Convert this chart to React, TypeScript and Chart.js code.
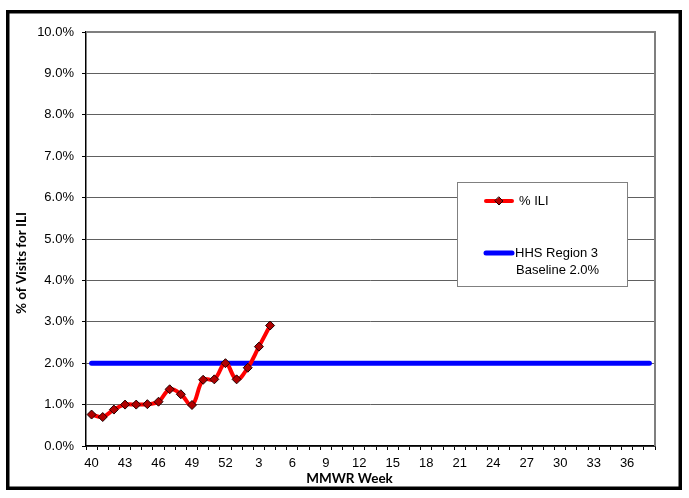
import React, { useEffect, useRef } from 'react';
import { Chart, registerables } from 'chart.js';

Chart.register(...registerables);

// MMWR weeks shown on the category axis
const weeks = [
  '40', '41', '42', '43', '44', '45', '46', '47', '48', '49', '50', '51', '52',
  '1', '2', '3', '4', '5', '6', '7', '8', '9', '10', '11', '12', '13', '14', '15',
  '16', '17', '18', '19', '20', '21', '22', '23', '24', '25', '26', '27', '28',
  '29', '30', '31', '32', '33', '34', '35', '36', '37', '38',
];

// % of visits for ILI (weeks 40 .. 4)
const iliPct = [0.76, 0.70, 0.88, 1.0, 1.0, 1.01, 1.07, 1.37, 1.25, 0.99, 1.6, 1.61, 2.0, 1.61, 1.89, 2.4, 2.91];

// HHS Region 3 baseline, spanning the whole season
const baselineWeeks = ['40', '38'];
const baselinePct = [2.0, 2.0];

const yTickValues = [0, 1, 2, 3, 4, 5, 6, 7, 8, 9, 10];

const seriesNames = ['% ILI', 'HHS Region 3', 'Baseline 2.0%'];
const axisTitles = { x: 'MMWR Week', y: '% of Visits for ILI' };

const TICK_FONT = '"Liberation Sans", Arial, sans-serif';
const TITLE_FONT = 'Lato, "Open Sans", sans-serif';

const decor = {
  id: 'decor',
  beforeDraw(chart: any) {
    const { ctx, width, height } = chart;
    ctx.save();
    ctx.fillStyle = '#ffffff';
    ctx.fillRect(0, 0, width, height);
    ctx.restore();
  },
  beforeDatasetsDraw(chart: any) {
    const { ctx, chartArea: a } = chart;
    ctx.save();
    ctx.strokeStyle = '#7f7f7f';
    ctx.lineWidth = 2;
    ctx.beginPath();
    ctx.moveTo(a.left, a.top);
    ctx.lineTo(a.right, a.top);
    ctx.lineTo(a.right, a.bottom);
    ctx.stroke();
    ctx.restore();
  },
  afterDraw(chart: any) {
    const { ctx, chartArea: a } = chart;
    ctx.save();
    // outer frame
    ctx.strokeStyle = '#000';
    ctx.lineWidth = 3.5;
    ctx.strokeRect(7.75, 11.75, 672.5, 476.5);

    // axis titles
    ctx.fillStyle = '#000';
    ctx.font = `bold 13.5px ${TITLE_FONT}`;
    ctx.textAlign = 'center';
    ctx.textBaseline = 'middle';
    ctx.fillText(axisTitles.x, (a.left + a.right) / 2 - 21, 479);
    ctx.save();
    ctx.translate(22, (a.top + a.bottom) / 2 + 24);
    ctx.rotate(-Math.PI / 2);
    ctx.fillText(axisTitles.y, 0, 0);
    ctx.restore();

    // legend box
    ctx.fillStyle = '#fff';
    ctx.fillRect(457, 182, 170, 104);
    ctx.strokeStyle = '#808080';
    ctx.lineWidth = 1;
    ctx.strokeRect(457.5, 182.5, 170, 104);

    ctx.lineCap = 'round';
    ctx.strokeStyle = '#ff0000';
    ctx.lineWidth = 4;
    ctx.beginPath();
    ctx.moveTo(486, 201);
    ctx.lineTo(512, 201);
    ctx.stroke();
    // diamond
    ctx.beginPath();
    ctx.moveTo(499, 197);
    ctx.lineTo(503, 201);
    ctx.lineTo(499, 205);
    ctx.lineTo(495, 201);
    ctx.closePath();
    ctx.fillStyle = '#b00000';
    ctx.fill();
    ctx.strokeStyle = '#200000';
    ctx.lineWidth = 1;
    ctx.stroke();

    ctx.strokeStyle = '#0000ff';
    ctx.lineWidth = 5;
    ctx.beginPath();
    ctx.moveTo(486, 253);
    ctx.lineTo(512, 253);
    ctx.stroke();

    ctx.fillStyle = '#000';
    ctx.font = `13px ${TICK_FONT}`;
    ctx.textAlign = 'left';
    ctx.textBaseline = 'middle';
    ctx.fillText(seriesNames[0], 519, 201);
    ctx.fillText(seriesNames[1], 515, 253);
    ctx.fillText(seriesNames[2], 516, 270);
    ctx.restore();
  },
};

export default function App() {
  const ref = useRef<HTMLCanvasElement | null>(null);

  useEffect(() => {
    if (!ref.current) return;
    const chart = new Chart(ref.current, {
      type: 'line',
      data: {
        labels: weeks,
        datasets: [
          {
            label: seriesNames[0],
            data: iliPct,
            borderColor: '#ff0000',
            borderWidth: 4,
            tension: 0.4,
            pointStyle: 'rectRot',
            pointRadius: 4.5,
            pointBackgroundColor: '#b00000',
            pointBorderColor: '#200000',
            pointBorderWidth: 1,
            fill: false,
          },
          {
            label: seriesNames[1],
            data: baselineWeeks.map((w, i) => ({ x: w, y: baselinePct[i] })),
            borderColor: '#0000ff',
            borderWidth: 5,
            borderCapStyle: 'round',
            pointRadius: 0,
            fill: false,
          },
        ],
      },
      options: {
        responsive: false,
        animation: false,
        layout: { padding: { left: 0, top: 32, right: 34, bottom: 22 } },
        plugins: {
          legend: { display: false },
          tooltip: { enabled: false },
        },
        scales: {
          x: {
            type: 'category',
            offset: true,
            afterFit: (s: any) => { s.height = 30; },
            grid: {
              offset: true,
              drawOnChartArea: false,
              drawTicks: true,
              tickLength: 4,
              tickColor: '#000',
              color: '#000',
            },
            border: { display: true, color: '#000', width: 1.5 },
            ticks: {
              autoSkip: false,
              maxRotation: 0,
              minRotation: 0,
              padding: 6,
              color: '#000',
              font: { family: TICK_FONT, size: 13 },
              callback: (_v: any, i: number) => (i % 3 === 0 ? weeks[i] : ''),
            },
          },
          y: {
            min: 0,
            max: 10,
            afterFit: (s: any) => { s.width = 86; },
            afterBuildTicks: (s: any) => { s.ticks = yTickValues.map((v) => ({ value: v })); },
            grid: {
              color: '#606060',
              lineWidth: 1,
              borderDash: [1, 1],
              drawTicks: true,
              tickLength: 4,
              tickColor: '#000',
              tickBorderDash: [],
            },
            border: { display: true, color: '#000', width: 1.5 },
            ticks: {
              padding: 8,
              color: '#000',
              font: { family: TICK_FONT, size: 13 },
              callback: (v: any) => `${Number(v).toFixed(1)}%`,
            },
          },
        },
      },
      plugins: [decor],
    } as any);
    return () => chart.destroy();
  }, []);

  return (
    <div style={{ position: 'fixed', left: 0, top: 0, width: 689, height: 498, background: '#fff' }}>
      <canvas ref={ref} width={689} height={498} style={{ display: 'block' }} />
    </div>
  );
}
